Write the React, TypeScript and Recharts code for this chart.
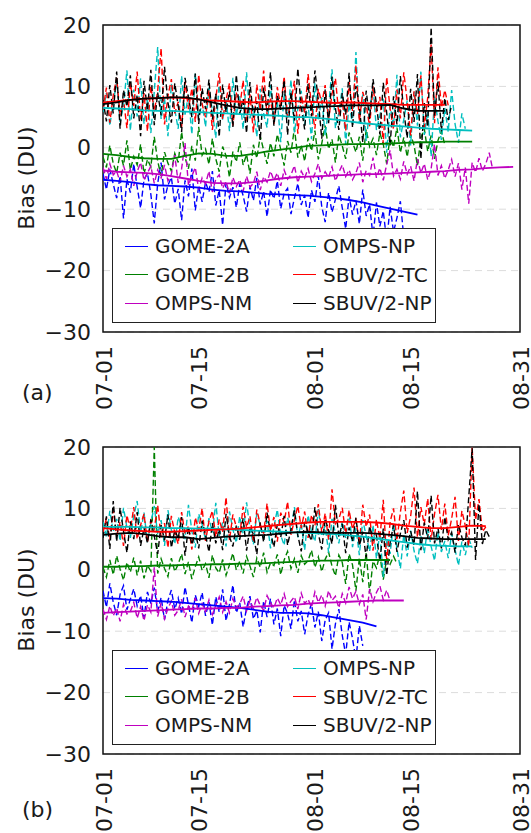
import { LineChart, Line, XAxis, YAxis, CartesianGrid, ReferenceArea } from 'recharts';

// series order matches the legend
const seriesNames = ['GOME-2A', 'GOME-2B', 'OMPS-NM', 'OMPS-NP', 'SBUV/2-TC', 'SBUV/2-NP'];
const seriesColors = ['#0000ff', '#008000', '#bf00bf', '#00bfbf', '#ff0000', '#000000'];

// x is days since 07-01
const xTicks = [0, 14, 31, 45, 61];
const xTickLabels = ['07-01', '07-15', '08-01', '08-15', '08-31'];
const yTicks = [-30, -20, -10, 0, 10, 20];

// raw values every half day, smoothed values every 2 days
const RAW_STEP = 0.5;
const SMOOTH_STEP = 2;

// ---- panel (a) ----
const aGome2aRaw = [-4.2, -6.8, -3.5, -5.9, -8.2, -4.6, -11.5, -5.1, -7.3, -2.6, -6.4, -9.8, -5.2, -4.1, -7.6, -12.3, -5.8, -2.4, -8.4, -6.1, -4.8, -9.1, -6.7, -11.8, -5.3, -7.9, -3.4, -10.2, -6.2, -8.8, -5.6, -7.2, -3.8, -9.4, -6.9, -12.6, -5.7, -8.1, -6.4, -9.7, -5.9, -7.8, -10.4, -6.3, -8.6, -4.9, -9.2, -7.1, -11.2, -6.8, -8.3, -5.4, -9.9, -7.4, -6.6, -10.8, -8.2, -5.8, -9.3, -7.7, -11.4, -6.9, -8.8, -4.6, -9.6, -12.1, -7.3, -10.5, -8.4, -6.2, -9.8, -13.2, -7.9, -10.9, -8.6, -12.4, -6.8, -11.1, -9.2, -14.5, -8.9, -12.8, -10.3, -15.2, -9.6, -13.7, -11.4, -8.7, -14.6];
const aGome2aSmooth = [-5.2, -5.4, -5.6, -5.9, -6.1, -6.2, -6.3, -6.5, -6.8, -7.0, -7.1, -7.3, -7.5, -7.6, -7.7, -7.8, -8.0, -8.2, -8.5, -8.9, -9.4, -9.9, -10.4, -10.9];
const aGome2bRaw = [-1.5, -3.2, 0.4, -2.6, -4.1, -0.8, -2.9, 1.2, -3.6, -1.4, -2.8, 0.6, -4.3, -1.9, -3.1, 1.8, -2.2, -4.6, -0.7, -2.5, -3.8, -0.9, -2.4, 2.6, -1.6, -3.4, 0.3, -2.1, 3.4, -1.2, -0.2, -2.7, 1.5, -1.8, -3.9, 0.2, -1.3, -4.8, -0.6, -2.3, 0.9, -2.8, -1.1, -4.2, 0.5, -1.7, 1.9, -0.4, -2.6, 0.8, -1.4, 2.2, -0.3, -2.9, 1.1, -0.8, 3.2, -1.6, 0.4, -2.2, 1.6, -0.5, 2.8, -1.9, 0.7, 3.6, -0.2, 1.4, -2.4, 2.1, 0.3, -1.8, 2.5, 0.9, -0.7, 1.8, -2.1, 3.0, 0.2, 1.5, -1.2, 2.4, 0.6, -2.6, 1.9, 0.1, 3.3, -0.8, 1.7, -1.5, 2.2, 0.4, -2.9, 1.6, 3.1, -0.6, 2.0, -1.8, 1.2, 2.7, 0.5];
const aGome2bSmooth = [-1.0, -1.2, -1.5, -1.7, -1.8, -1.8, -1.3, -0.9, -1.0, -1.3, -1.3, -1.0, -0.6, -0.3, 0.0, 0.3, 0.4, 0.5, 0.6, 0.6, 0.6, 0.7, 0.8, 0.9, 0.9, 1.0, 1.0, 1.0];
const aOmpsNmRaw = [-3.2, -5.1, -2.6, -4.4, -3.8, -5.6, -2.9, -4.7, -3.5, -6.2, -3.9, -2.4, -5.3, -4.1, -3.0, -5.8, -3.6, -4.9, -2.8, -5.4, -4.3, -1.2, -5.7, -3.4, 0.8, -6.1, -4.6, -3.2, -6.8, -4.9, -5.9, -3.8, -7.2, -5.1, -4.4, -6.6, -5.5, -7.4, -4.8, -6.3, -5.2, -7.1, -4.6, -6.4, -5.8, -3.9, -6.9, -4.7, -5.6, -3.8, -5.3, -4.1, -6.2, -3.6, -5.1, -4.4, -2.9, -5.7, -3.8, -4.9, -3.4, -5.5, -4.2, -2.6, -5.0, -3.9, -4.8, -3.1, -5.4, -4.0, -2.8, -4.7, -3.6, -5.2, -4.1, -2.4, -5.6, -3.7, -4.5, -1.6, -4.9, -3.3, -5.3, -2.7, -0.4, -4.6, -3.5, -5.1, -2.2, -4.3, -3.0, -5.4, -1.8, -4.1, -2.6, -5.2, -3.4, 0.6, -4.5, -2.9, -5.0, -3.6, -1.9, -4.7, -2.5, -6.8, -3.2, -9.1, -2.4, -4.0, -1.7, -3.8, -2.6, -0.8, -3.5];
const aOmpsNmSmooth = [-3.7, -3.9, -4.0, -4.1, -4.3, -4.6, -5.0, -5.4, -5.7, -5.8, -5.8, -5.6, -5.3, -5.0, -4.8, -4.7, -4.6, -4.5, -4.4, -4.3, -4.3, -4.2, -4.1, -4.0, -3.9, -3.8, -3.6, -3.5, -3.3, -3.2, -3.1];
const aOmpsNpRaw = [5.8, 8.9, 3.6, 7.4, 10.8, 4.2, 6.9, 12.6, 2.8, 9.5, 5.1, 11.3, 3.9, 7.8, 2.4, 9.2, 16.4, 4.7, 8.1, 1.9, 10.4, 6.2, 3.1, 11.7, 5.4, 8.6, 2.2, 12.1, 4.9, 7.3, 3.4, 9.8, 6.0, 1.6, 10.9, 4.5, 7.9, 2.7, 11.4, 5.2, 8.4, 3.0, 12.3, 4.8, 6.7, 1.8, 9.6, 5.5, 3.3, 10.2, 4.1, 7.6, 0.9, 8.8, 5.0, 11.1, 2.5, 6.4, 9.3, 3.7, 7.0, 1.4, 10.6, 4.4, 8.2, 2.0, 6.6, 12.8, 3.2, 5.7, 9.7, 0.6, 7.2, 3.8, 15.6, 4.0, 8.7, 1.1, 6.1, 10.0, 2.9, 5.3, 8.0, -0.8, 6.8, 3.5, 11.9, 1.7, 4.6, 7.7, 0.4, 9.1, 3.6, 12.4, 2.1, 5.9, -1.4, 8.3, 4.3, 1.3, 6.5, 2.6, 9.4, 3.9, 0.8, 5.6, 3.1];
const aOmpsNpSmooth = [6.5, 6.4, 6.3, 6.1, 6.0, 6.0, 5.9, 5.8, 5.7, 5.6, 5.5, 5.4, 5.3, 5.2, 5.0, 5.0, 4.8, 4.6, 4.3, 4.0, 3.8, 3.6, 3.5, 3.3, 3.1, 3.0, 2.9, 2.8];
const aSbuvTcRaw = [6.2, 9.8, 4.1, 8.6, 11.4, 5.3, 7.9, 3.2, 10.6, 6.8, 12.4, 4.6, 8.9, 2.7, 10.1, 5.9, 9.3, 16.2, 3.8, 8.4, 11.2, 5.6, 7.5, 3.4, 10.8, 6.3, 9.7, 4.2, 11.9, 7.1, 5.0, 9.4, 2.9, 8.1, 12.2, 4.7, 7.8, 10.5, 3.6, 9.0, 6.5, 11.0, 4.4, 8.7, 2.5, 10.3, 6.1, 12.6, 5.2, 8.0, 3.9, 9.9, 6.7, 11.6, 4.9, 7.4, 10.9, 2.3, 8.5, 5.7, 12.0, 6.9, 3.1, 9.6, 7.2, 10.2, 4.5, 8.8, 11.3, 5.4, 7.7, 2.8, 10.7, 6.0, 13.4, 4.3, 9.1, 7.0, 3.5, 10.0, 5.8, 8.3, 0.6, 11.5, 6.4, 3.0, 9.5, 4.8, 12.3, 7.6, 2.0, 9.2, 5.5, 11.8, 3.3, 8.2, 16.8, 4.0, 13.1, 6.6, 9.4, 6.9];
const aSbuvTcSmooth = [7.4, 7.6, 7.8, 8.0, 8.1, 8.2, 8.1, 7.9, 7.7, 7.6, 7.5, 7.4, 7.5, 7.6, 7.6, 7.5, 7.4, 7.3, 7.4, 7.3, 7.2, 7.1, 7.0, 7.0, 7.0, 7.0];
const aSbuvNpRaw = [7.8, 4.3, 10.2, 5.6, 12.4, 3.1, 9.4, 6.7, 11.8, 4.8, 8.6, 1.9, 10.9, 6.1, 12.7, 3.7, 9.0, 5.3, 13.2, 7.4, 4.1, 10.5, 6.9, 2.6, 11.4, 8.2, 5.0, 12.1, 3.9, 9.7, 6.3, 11.1, 4.6, 8.8, 1.8, 10.3, 5.8, 9.2, 3.4, 11.9, 5.5, 8.0, 2.4, 10.7, 4.9, 7.6, 1.2, 9.8, 5.9, 12.3, 3.6, 8.5, 6.2, 11.0, 2.1, 9.1, 4.4, 12.9, 6.6, 3.0, 10.4, 5.1, 12.6, 7.7, 1.5, 9.5, 4.0, 11.6, 6.4, 2.9, 8.9, 5.4, 12.2, 3.3, 10.1, 6.8, 0.9, 9.3, 4.7, 11.2, 7.1, 2.2, 10.6, 5.7, 0.4, 8.4, 3.8, 11.7, 6.0, 1.6, 9.6, 4.2, 12.0, -1.8, 7.3, 3.4, 19.6, 5.2, 10.8, 2.7, 8.1, 4.5, 7.0];
const aSbuvNpSmooth = [7.1, 7.4, 7.8, 8.0, 8.1, 8.2, 8.2, 7.9, 7.4, 6.9, 6.5, 6.3, 6.3, 6.4, 6.5, 6.6, 6.7, 6.8, 6.9, 6.9, 6.9, 7.0, 6.4, 6.0, 6.0, 6.0];

// ---- panel (b) ----
const bGome2aRaw = [-3.4, -6.1, -2.2, -5.3, -7.4, -4.0, -2.6, -6.5, -4.8, -3.1, -5.9, -4.2, -7.8, -3.6, -5.5, -2.9, -6.8, -4.5, -8.1, -5.0, -3.3, -6.4, -4.6, -7.2, -2.8, -5.7, -8.6, -4.1, -6.0, -3.7, -7.5, -5.2, -9.0, -4.4, -6.9, -3.2, -8.3, -5.6, -2.5, -7.0, -5.4, -9.3, -6.2, -4.3, -8.0, -6.6, -10.2, -5.1, -7.7, -4.7, -8.9, -6.3, -10.8, -5.8, -7.1, -9.6, -4.9, -8.4, -6.7, -10.5, -7.3, -5.5, -9.4, -6.8, -11.6, -8.2, -7.0, -12.9, -8.8, -6.4, -10.7, -13.8, -8.5, -11.2, -14.6, -9.1, -12.4];
const bGome2aSmooth = [-4.6, -4.7, -4.9, -5.0, -5.1, -5.2, -5.4, -5.6, -5.8, -6.0, -6.2, -6.5, -6.8, -7.0, -7.0, -7.1, -7.4, -7.8, -8.2, -8.6, -9.2];
const bGome2bRaw = [0.4, -1.2, 1.6, -0.8, 2.3, 0.1, -1.7, 1.2, -0.4, 2.0, -0.9, 1.5, -1.4, 0.7, -0.2, 20.0, -0.6, 1.8, 0.2, -1.1, 1.9, -0.3, 0.9, 2.6, -0.7, 1.3, -1.5, 0.5, 2.1, -0.1, 1.0, -1.3, 2.4, 0.3, -0.5, 1.7, -0.9, 0.8, 2.7, 0.0, 1.4, -0.6, 2.2, 0.6, -1.2, 1.9, 0.4, 2.8, -0.4, 1.1, 0.7, 2.5, -0.8, 1.6, 3.0, 0.2, 1.8, -0.5, 2.3, 0.9, 1.5, 3.2, 0.4, 2.1, -0.3, 1.7, 2.9, 0.6, -1.0, 2.4, 1.2, -2.3, 2.6, 0.8, -3.4, 1.9, -2.0, 2.8, -3.8, 1.4, 0.3, 2.5, -1.6, 1.8, 0.9, 2.2, 1.0];
const bGome2bSmooth = [0.5, 0.5, 0.6, 0.6, 0.7, 0.7, 0.8, 0.8, 0.9, 0.9, 1.0, 1.0, 1.1, 1.2, 1.3, 1.4, 1.5, 1.5, 1.6, 1.6, 1.6, 1.6];
const bOmpsNmRaw = [-6.4, -8.1, -5.9, -7.5, -6.2, -8.4, -5.6, -7.2, -6.8, -5.3, -7.9, -6.0, -8.3, -5.7, -6.9, 0.4, -7.6, -5.4, -8.0, -6.3, -5.1, -7.4, -6.6, -4.8, -7.7, -5.9, -6.5, -4.6, -7.1, -5.5, -6.8, -4.9, -7.3, -5.8, -4.4, -6.9, -5.2, -7.0, -4.7, -6.1, -5.6, -4.3, -6.7, -5.0, -6.3, -4.5, -5.8, -6.6, -4.2, -5.4, -6.2, -4.6, -5.7, -3.9, -6.0, -5.1, -4.4, -6.4, -3.8, -5.5, -4.8, -6.1, -3.6, -5.3, -4.1, -5.9, -3.4, -5.0, -4.3, -6.2, -3.9, -5.4, -2.8, -4.7, -3.5, -5.6, -4.0, -8.1, -3.1, -5.2, -3.7, -2.6, -4.9, -3.3, -5.1];
const bOmpsNmSmooth = [-7.0, -6.9, -6.8, -6.7, -6.6, -6.5, -6.4, -6.3, -6.3, -6.2, -6.2, -6.0, -5.9, -5.8, -5.7, -5.5, -5.4, -5.3, -5.2, -5.1, -5.0, -5.0, -5.0];
const bOmpsNpRaw = [7.8, 5.4, 9.6, 6.2, 8.3, 4.7, 10.1, 6.9, 5.2, 8.8, 11.2, 6.0, 9.3, 4.5, 7.6, 10.4, 5.8, 8.1, 3.9, 9.7, 6.5, 4.2, 8.6, 7.1, 5.0, 10.6, 6.3, 3.6, 9.1, 7.4, 4.8, 8.4, 6.1, 10.9, 5.5, 7.7, 3.8, 9.5, 6.6, 4.4, 8.7, 5.9, 11.0, 6.8, 4.1, 9.2, 7.3, 5.1, 8.0, 3.5, 7.0, 9.8, 5.6, 4.0, 8.5, 6.4, 10.2, 5.3, 7.5, 3.2, 8.9, 6.2, 4.6, 9.9, 5.7, 7.2, 2.8, 8.3, 6.0, 4.3, 7.9, 5.2, 9.4, 3.7, 6.8, 2.4, 8.1, 5.5, 3.0, 7.3, 1.8, 6.1, -1.2, 4.9, 2.6, 7.6, 3.4, 0.2, 5.8, 2.2, 6.4, 3.1, 1.0, 5.5, 2.7, 7.0, 3.8, 1.5, 6.2, 2.9, 4.7, 1.9, 5.9, 3.3, 0.7, 4.6, 2.4, 5.1, 3.6];
const bOmpsNpSmooth = [7.0, 7.0, 7.0, 6.9, 6.9, 6.8, 6.8, 6.7, 6.7, 6.6, 6.5, 6.4, 6.3, 6.2, 6.1, 6.0, 5.9, 5.8, 5.6, 5.4, 5.1, 4.8, 4.5, 4.2, 4.0, 3.9, 3.8, 3.8];
const bSbuvTcRaw = [6.1, 8.4, 4.9, 9.7, 5.6, 7.8, 3.9, 8.9, 6.4, 10.2, 5.0, 7.3, 9.1, 4.4, 8.0, 6.7, 10.5, 5.3, 7.6, 3.6, 8.8, 6.0, 4.2, 9.4, 5.8, 7.1, 3.3, 8.5, 6.5, 10.0, 4.7, 7.9, 9.6, 5.4, 8.2, 6.2, 11.8, 4.8, 9.0, 7.0, 5.5, 10.3, 6.9, 8.7, 4.5, 9.8, 7.4, 5.9, 10.8, 6.3, 8.6, 4.6, 9.3, 7.7, 11.1, 5.7, 8.1, 10.4, 6.8, 9.5, 5.2, 8.9, 7.2, 10.7, 6.1, 9.2, 4.9, 13.1, 7.5, 8.3, 10.1, 5.8, 9.7, 6.6, 8.4, 4.3, 10.6, 7.0, 9.0, 3.1, 8.2, 5.1, 11.4, 1.2, 7.8, 10.0, 4.8, 9.4, 12.9, 6.0, 8.7, 13.4, 5.3, 10.2, 7.4, 11.6, 4.9, 9.1, 12.2, 6.5, 10.8, 5.6, 8.3, 11.9, 4.7, 9.6, 7.2, 3.8, 20.0, 8.1, 11.5, 6.2, 7.0];
const bSbuvTcSmooth = [6.8, 6.6, 6.4, 6.3, 6.2, 6.2, 6.3, 6.4, 6.5, 6.6, 6.7, 6.9, 7.1, 7.3, 7.5, 7.7, 7.8, 7.8, 7.8, 7.8, 7.7, 7.5, 7.2, 7.0, 6.8, 6.8, 7.0, 7.2, 7.1];
const bSbuvNpRaw = [5.2, 8.7, 3.4, 11.2, 4.6, 10.1, 6.3, 2.8, 7.9, 5.0, 9.4, 3.9, 6.8, 4.4, 8.2, 5.5, 2.6, 7.3, 4.8, 9.0, 3.6, 6.5, 5.1, 8.6, 2.3, 7.0, 4.1, 6.2, 3.5, 8.0, 5.7, 2.9, 7.6, 4.3, 6.7, 3.2, 9.1, 5.4, 3.8, 7.2, 4.9, 8.4, 3.1, 6.9, 5.8, 2.5, 7.7, 4.5, 9.3, 6.0, 3.7, 7.4, 5.3, 8.8, 4.0, 6.6, 9.7, 5.6, 3.0, 7.8, 6.1, 4.7, 10.2, 5.9, 3.3, 8.3, 6.4, 4.2, 10.6, 5.4, 7.5, 2.7, 6.9, 4.6, 8.5, 3.9, 6.2, 2.0, 7.1, 4.8, 5.6, 1.4, 6.7, -0.9, 4.4, 7.3, 2.9, 5.9, 8.1, 3.6, 6.3, 4.0, 12.8, 3.2, 7.7, 5.1, 12.1, 4.3, 6.8, 3.5, 8.6, 4.9, 6.1, 2.8, 7.4, 5.3, 3.9, 11.8, 19.8, 1.6, 10.7, 4.2, 6.5, 5.4];
const bSbuvNpSmooth = [5.7, 5.9, 6.0, 5.8, 5.5, 5.3, 5.3, 5.0, 5.2, 5.4, 5.5, 5.6, 5.7, 5.9, 6.1, 6.2, 6.1, 6.0, 6.0, 6.0, 5.9, 5.7, 5.5, 5.2, 5.1, 5.0, 5.0, 5.0, 5.0];

const toPoints = (vals: number[], step: number) => vals.map((v, i) => ({ x: i * step, y: v }));

const FONT = '"DejaVu Sans", sans-serif';
const TEXT = '#1a1a1a';

const fmtY = (v: number) => (v < 0 ? '\u2212' + Math.abs(v) : String(v));

const XTick = (props: any) => {
  const { x, y, payload } = props;
  const idx = xTicks.indexOf(payload.value);
  return (
    <text transform={`translate(${x + 1},${y + 6}) rotate(-90)`} textAnchor="end" dominantBaseline="central"
      fontSize={22} fontFamily={FONT} fill={TEXT}>
      {xTickLabels[idx]}
    </text>
  );
};

const YTick = (props: any) => {
  const { x, y, payload } = props;
  return (
    <text x={x - 4} y={y} textAnchor="end" dominantBaseline="central" fontSize={22} fontFamily={FONT} fill={TEXT}>
      {fmtY(payload.value)}
    </text>
  );
};

const LegendBox = () => (
  <div style={{
    position: 'absolute', left: 112, top: 228, width: 324, height: 95, boxSizing: 'border-box',
    border: '1.5px solid #222', background: '#fff', fontFamily: FONT, fontSize: 20, color: TEXT,
  }}>
    {seriesNames.map((name, i) => {
      const col = Math.floor(i / 3);
      const row = i % 3;
      return (
        <div key={name} style={{
          position: 'absolute', left: col === 0 ? 12 : 180, top: 3 + row * 28.5, height: 28,
          display: 'flex', alignItems: 'center', whiteSpace: 'nowrap',
        }}>
          <span style={{ display: 'inline-block', width: 23, height: 0, borderTop: `1.6px solid ${seriesColors[i]}`, marginRight: 7 }} />
          {name}
        </div>
      );
    })}
  </div>
);

function Panel({ raw, smooth, tag, tagTop }: { raw: number[][]; smooth: number[][]; tag: string; tagTop: number }) {
  return (
    <div style={{ position: 'relative', width: 531, height: 411 }}>
      <LineChart width={531} height={411} margin={{ top: 25, right: 11, bottom: 0, left: 0 }}>
        <CartesianGrid vertical={false} stroke="#dcdcdc" strokeDasharray="7 5" />
        <XAxis type="number" dataKey="x" domain={[0, 61]} ticks={xTicks} interval={0} allowDataOverflow
          tickLine={false} axisLine={false} height={79} tick={<XTick />} />
        <YAxis type="number" dataKey="y" domain={[-30, 20]} ticks={yTicks} interval={0} allowDataOverflow
          tickLine={false} axisLine={false} width={103} tick={<YTick />} />
        {raw.map((vals, i) => (
          <Line key={'r' + i} data={toPoints(vals, RAW_STEP)} dataKey="y" stroke={seriesColors[i]} strokeWidth={1.4}
            strokeDasharray="6 3" dot={false} activeDot={false} isAnimationActive={false} />
        ))}
        {smooth.map((vals, i) => (
          <Line key={'s' + i} data={toPoints(vals, SMOOTH_STEP)} dataKey="y" stroke={seriesColors[i]} strokeWidth={1.8}
            dot={false} activeDot={false} isAnimationActive={false} />
        ))}
        <ReferenceArea x1={0} x2={61} y1={-30} y2={20} fill="none" stroke="#111" strokeWidth={1.5} />
      </LineChart>
      <LegendBox />
      <div style={{
        position: 'absolute', left: 26, top: 178, transform: 'translate(-50%, -50%) rotate(-90deg)',
        whiteSpace: 'nowrap', fontFamily: FONT, fontSize: 22, color: TEXT,
      }}>Bias (DU)</div>
      <div style={{ position: 'absolute', left: 22, top: tagTop, fontFamily: FONT, fontSize: 22, color: TEXT }}>{tag}</div>
    </div>
  );
}

export default function App() {
  return (
    <div style={{ position: 'absolute', left: 0, top: 0, width: 531, height: 833, background: '#fff', overflow: 'hidden' }}>
      <Panel tag="(a)" tagTop={380}
        raw={[aGome2aRaw, aGome2bRaw, aOmpsNmRaw, aOmpsNpRaw, aSbuvTcRaw, aSbuvNpRaw]}
        smooth={[aGome2aSmooth, aGome2bSmooth, aOmpsNmSmooth, aOmpsNpSmooth, aSbuvTcSmooth, aSbuvNpSmooth]} />
      <div style={{ position: 'absolute', left: 0, top: 422 }}>
        <Panel tag="(b)" tagTop={375}
          raw={[bGome2aRaw, bGome2bRaw, bOmpsNmRaw, bOmpsNpRaw, bSbuvTcRaw, bSbuvNpRaw]}
          smooth={[bGome2aSmooth, bGome2bSmooth, bOmpsNmSmooth, bOmpsNpSmooth, bSbuvTcSmooth, bSbuvNpSmooth]} />
      </div>
    </div>
  );
}
